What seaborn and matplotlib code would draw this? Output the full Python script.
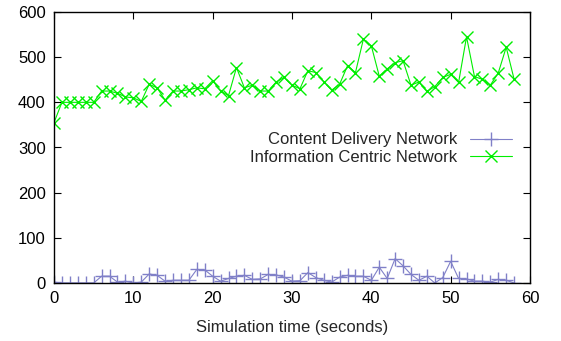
import numpy as np
import pandas as pd
import matplotlib
matplotlib.use('Agg')
import matplotlib.pyplot as plt
import seaborn as sns

# Data
time_s = list(range(59))
cdn = [2, 0, 0, 0, 0, 0, 15, 15, 2, 4, 0, 2, 20, 17, 4, 6, 6, 6, 30, 29,
       15, 4, 10, 15, 17, 8, 9, 19, 18, 13, 4, 5, 23, 12, 6, 2, 13, 17, 15, 15,
       6, 35, 10, 54, 38, 19, 6, 15, 0, 12, 48, 10, 9, 4, 4, 2, 8, 6, 0]
icn = [355, 400, 400, 400, 400, 400, 425, 425, 420, 412, 410, 402, 440, 432, 405, 425, 425, 428, 432, 430,
       448, 425, 415, 477, 432, 438, 425, 425, 445, 455, 438, 430, 470, 466, 446, 427, 440, 481, 466, 540,
       525, 458, 474, 488, 492, 438, 445, 424, 435, 455, 462, 444, 545, 457, 451, 438, 465, 522, 451]

df = pd.DataFrame({'time': time_s, 'cdn': cdn, 'icn': icn})

sns.set_style('ticks')
plt.rcParams['font.family'] = ['Liberation Sans', 'DejaVu Sans']

fig = plt.figure(figsize=(5.61, 3.41), dpi=100)
ax = fig.add_axes([54 / 561, 1 - 283 / 341, 476 / 561, 271 / 341])

cdn_col = '#8080c8'
icn_col = '#00ee00'
sns.lineplot(data=df, x='time', y='cdn', ax=ax, color=cdn_col, marker='+',
             markersize=10, markeredgewidth=1, markeredgecolor=cdn_col,
             linewidth=0.8, label='Content Delivery Network')
sns.lineplot(data=df, x='time', y='icn', ax=ax, color=icn_col, marker='x',
             markersize=8, markeredgewidth=1, markeredgecolor=icn_col,
             linewidth=0.8, label='Information Centric Network')

ax.set_xlim(0, 60)
ax.set_ylim(0, 600)
ax.set_xticks(range(0, 61, 10))
ax.set_yticks(range(0, 601, 100))
ax.tick_params(direction='in', top=True, right=True, length=5, width=0.8,
               labelsize=12, colors='black', pad=6)
for sp in ax.spines.values():
    sp.set_linewidth(1.0)
    sp.set_color('black')
ax.set_xlabel('Simulation time (seconds)', fontsize=12, labelpad=10)
ax.set_ylabel('')

leg = ax.legend(loc='upper right', bbox_to_anchor=(0.976, 0.58), frameon=False,
                markerfirst=False, fontsize=12, handlelength=2.5,
                handletextpad=0.8, labelspacing=0.15, borderaxespad=0)
for t in leg.get_texts():
    t.set_ha('right')

fig.savefig('out.png', dpi=100)
